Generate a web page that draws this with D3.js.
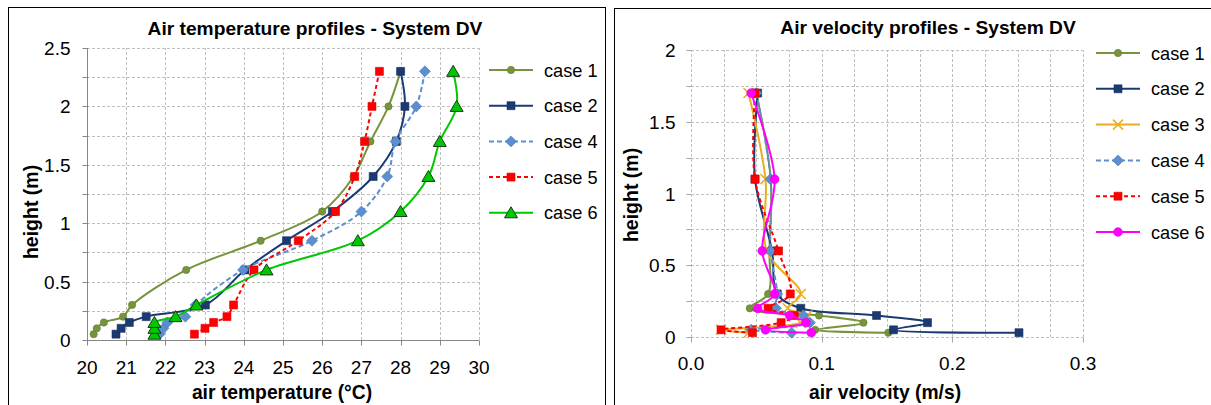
<!DOCTYPE html>
<html>
<head>
<meta charset="utf-8">
<script src="https://cdn.jsdelivr.net/npm/d3@7"></script>
<style>
body{margin:0;background:#fff;}
text{font-family:"Liberation Sans",Arial,sans-serif;}
</style>
</head>
<body>
<script>
// left chart: air temperature profiles
var heightsT = [0.05,0.1,0.15,0.2,0.3,0.6,0.85,1.1,1.4,1.7,2.0,2.3];
var case1T = [20.17,20.25,20.43,20.92,21.15,22.53,24.43,26.0,26.8,27.23,27.69,28.0];
var case2T = [20.74,20.87,21.08,21.51,23.02,24.03,25.09,26.26,27.3,27.89,28.11,28.0];
var case4T = [21.85,21.95,22.05,22.51,22.77,23.98,25.74,27.0,27.66,27.87,28.4,28.62];
var case5T = [22.74,23.01,23.23,23.57,23.74,24.26,25.39,26.34,26.83,27.08,27.27,27.46];
var case6T = [21.72,21.72,21.72,22.26,22.79,24.58,26.91,28.0,28.71,29.0,29.43,29.34];
var tempTicks = [20,21,22,23,24,25,26,27,28,29,30];
var heightTicksT = [0,0.5,1,1.5,2,2.5];

// right chart: air velocity profiles
var heightsV = [0.03,0.05,0.1,0.15,0.2,0.3,0.6,1.1,1.7];
var case1V = [0.151,0.095,0.132,0.098,0.045,0.059,0.060,0.061,0.050];
var case2V = [0.251,0.155,0.181,0.142,0.084,0.066,0.062,0.049,0.051];
var case3V = [0.044,0.023,0.084,0.089,0.074,0.084,0.058,0.057,0.044];
var case4V = [0.077,0.046,0.091,0.086,0.065,0.066,0.061,0.061,0.050];
var case5V = [0.047,0.023,0.069,0.079,0.059,0.076,0.067,0.049,0.049];
var case6V = [0.092,0.057,0.088,0.0755,0.051,0.064,0.0545,0.064,0.046];
var velTicks = [0,0.1,0.2,0.3];
var heightTicksV = [0,0.5,1,1.5,2];

var styles = {
  "case 1": {color:"#77933C", dash:null, marker:"circle"},
  "case 2": {color:"#1C3A72", dash:null, marker:"square"},
  "case 3": {color:"#E8AE1F", dash:null, marker:"x"},
  "case 4": {color:"#5B8FCF", dash:"5,3", marker:"diamond"},
  "case 5": {color:"#FF0000", dash:"4,3", marker:"square"},
  "case 6": {color:"#00C800", dash:null, marker:"triangle"}
};

var svg = d3.select("body").append("svg")
    .attr("width",1211).attr("height",405);
svg.append("rect").attr("width",1211).attr("height",405).attr("fill","#fff");

// panel borders
svg.append("rect").attr("x",8.5).attr("y",7.5).attr("width",597).attr("height",420)
    .attr("fill","none").attr("stroke","#000").attr("stroke-width",1);
svg.append("rect").attr("x",614.5).attr("y",8.5).attr("width",597).attr("height",420)
    .attr("fill","none").attr("stroke","#000").attr("stroke-width",1);

function markerPath(type){
  if(type=="circle") return d3.symbol().type(d3.symbolCircle).size(42)();
  if(type=="bigcircle") return d3.symbol().type(d3.symbolCircle).size(60)();
  if(type=="square") return d3.symbol().type(d3.symbolSquare).size(64)();
  if(type=="diamond") return "M0,-5.5L5.5,0L0,5.5L-5.5,0Z";
  if(type=="triangle") return "M0,-6L6.5,5L-6.5,5Z";
  if(type=="x") return "M-5,-5L5,5M-5,5L5,-5";
}

function drawMarker(g, type, color, x, y){
  var p = g.append("path").attr("d",markerPath(type))
      .attr("transform","translate("+x+","+y+")");
  if(type=="x"){
    p.attr("fill","none").attr("stroke",color).attr("stroke-width",1.5);
  } else if(type=="triangle"){
    p.attr("fill",color).attr("stroke","#1a3a1a").attr("stroke-width",1);
  } else {
    p.attr("fill",color).attr("stroke",d3.rgb(color).darker(0.4)).attr("stroke-width",0.6);
  }
}

function drawChart(opt){
  var x = d3.scaleLinear().domain(opt.xDomain).range(opt.xRange);
  var y = d3.scaleLinear().domain(opt.yDomain).range(opt.yRange);
  var g = svg.append("g");

  // grid
  d3.range(opt.yDomain[0], opt.yDomain[1]+1e-9, opt.yGridStep).forEach(function(v){
    if(opt.solidAxes && v===0) return;
    g.append("line").attr("x1",x.range()[0]).attr("x2",x.range()[1])
      .attr("y1",Math.round(y(v))+0.5).attr("y2",Math.round(y(v))+0.5)
      .attr("stroke","#BFBFBF").attr("stroke-dasharray","3,2");
  });
  d3.range(opt.xDomain[0], opt.xDomain[1]+1e-9, opt.xGridStep).forEach(function(v){
    if(opt.solidAxes && Math.abs(v-opt.xDomain[0])<1e-9) return;
    g.append("line").attr("y1",y.range()[0]).attr("y2",y.range()[1])
      .attr("x1",Math.round(x(v))+0.5).attr("x2",Math.round(x(v))+0.5)
      .attr("stroke","#BFBFBF").attr("stroke-dasharray","3,2");
  });

  // axes
  var axisColor = opt.solidAxes ? "#868686" : "#A6A6A6";
  var x0 = Math.round(x.range()[0])+0.5, y0 = Math.round(y.range()[0])+0.5;
  if(opt.solidAxes){
    g.append("line").attr("x1",x0).attr("x2",x.range()[1]).attr("y1",y0).attr("y2",y0).attr("stroke",axisColor);
    g.append("line").attr("x1",x0).attr("x2",x0).attr("y1",y0).attr("y2",y.range()[1]).attr("stroke",axisColor);
  }
  d3.range(opt.yDomain[0], opt.yDomain[1]+1e-9, 0.25).forEach(function(v){
    g.append("line").attr("x1",x0-5).attr("x2",x0).attr("y1",Math.round(y(v))+0.5).attr("y2",Math.round(y(v))+0.5).attr("stroke",axisColor);
  });
  opt.xTicks.forEach(function(v){
    g.append("line").attr("x1",Math.round(x(v))+0.5).attr("x2",Math.round(x(v))+0.5).attr("y1",y0).attr("y2",y0+5).attr("stroke",axisColor);
  });

  // tick labels
  g.selectAll(".yt").data(opt.yTicks).enter().append("text")
    .attr("x",x0-opt.yLabelGap).attr("y",function(d){return y(d)+7;})
    .attr("text-anchor","end").attr("font-size",19).attr("fill","#000")
    .text(function(d){return d;});
  g.selectAll(".xt").data(opt.xTicks).enter().append("text")
    .attr("x",function(d){return x(d);}).attr("y",y0+opt.xLabelGap)
    .attr("text-anchor","middle").attr("font-size",19).attr("fill","#000")
    .text(opt.xFormat);

  // titles
  g.append("text").attr("x",opt.titleX).attr("y",opt.titleY).attr("text-anchor","middle")
    .attr("font-size",19.2).attr("font-weight","bold").text(opt.title);
  g.append("text").attr("x",opt.xTitleX).attr("y",399).attr("text-anchor","middle")
    .attr("font-size",19.3).attr("font-weight","bold").text(opt.xTitle);
  g.append("text").attr("transform","translate("+opt.yTitleX+","+opt.yTitleY+") rotate(-90)")
    .attr("text-anchor","middle").attr("font-size",19.5).attr("font-weight","bold").text("height (m)");

  var line = d3.line()
    .x(function(d){return x(d[0]);})
    .y(function(d){return y(d[1]);})
    .curve(d3.curveCatmullRom.alpha(0.5));

  opt.series.forEach(function(s, i){
    var st = styles[s.name];
    var color = s.color || st.color;
    var marker = s.marker || st.marker;
    var pts = s.values.map(function(v,j){return [v, opt.heights[j]];});
    g.append("path").attr("d",line(pts)).attr("fill","none")
      .attr("stroke",color).attr("stroke-width",2)
      .attr("stroke-dasharray",st.dash);
    var mg = g.append("g");
    pts.forEach(function(p){ drawMarker(mg, marker, color, x(p[0]), y(p[1])); });

    // legend
    var ly = opt.legendY + i*opt.legendStep;
    g.append("line").attr("x1",opt.legendX).attr("x2",opt.legendX+44).attr("y1",ly).attr("y2",ly)
      .attr("stroke",color).attr("stroke-width",2).attr("stroke-dasharray",st.dash);
    drawMarker(g, marker, color, opt.legendX+22, ly);
    g.append("text").attr("x",opt.legendX+55).attr("y",ly+6.5).attr("font-size",18.2).text(s.name);
  });
}

drawChart({
  xDomain:[20,30], xRange:[87,479], yDomain:[0,2.5], yRange:[340,48],
  xGridStep:1, yGridStep:0.25, solidAxes:true,
  xTicks:tempTicks, yTicks:heightTicksT, xFormat:function(d){return d;},
  yLabelGap:17, xLabelGap:33,
  title:"Air temperature profiles - System DV", titleX:315, titleY:35,
  xTitle:"air temperature (°C)", xTitleX:282, yTitleX:38, yTitleY:212,
  heights:heightsT,
  series:[
    {name:"case 1", values:case1T},
    {name:"case 2", values:case2T},
    {name:"case 4", values:case4T},
    {name:"case 5", values:case5T},
    {name:"case 6", values:case6T}
  ],
  legendX:489, legendY:70, legendStep:35.7
});

drawChart({
  xDomain:[0,0.3], xRange:[691,1083], yDomain:[0,2], yRange:[337,50],
  xGridStep:0.025, yGridStep:0.25, solidAxes:false,
  xTicks:velTicks, yTicks:heightTicksV, xFormat:function(d){return d3.format(".1f")(d);},
  yLabelGap:16, xLabelGap:32,
  title:"Air velocity profiles - System DV", titleX:928, titleY:33.5,
  xTitle:"air velocity (m/s)", xTitleX:885, yTitleX:638, yTitleY:195,
  heights:heightsV,
  series:[
    {name:"case 1", values:case1V},
    {name:"case 2", values:case2V},
    {name:"case 3", values:case3V},
    {name:"case 4", values:case4V},
    {name:"case 5", values:case5V},
    {name:"case 6", values:case6V, color:"#FF00FF", marker:"bigcircle"}
  ],
  legendX:1096, legendY:53, legendStep:35.8
});
</script>
</body>
</html>
